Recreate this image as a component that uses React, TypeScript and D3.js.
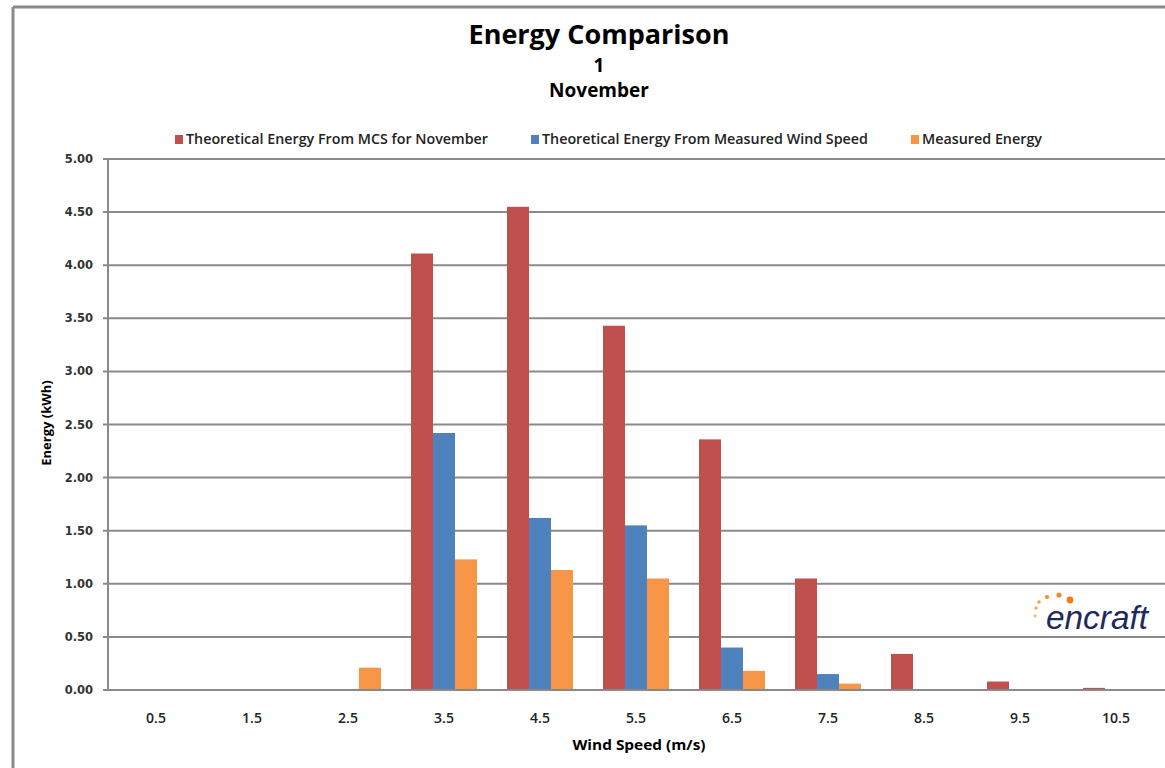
import React from "react";
import * as d3 from "d3";

const categories = ["0.5", "1.5", "2.5", "3.5", "4.5", "5.5", "6.5", "7.5", "8.5", "9.5", "10.5"];
const seriesNames = [
  "Theoretical Energy From MCS for November",
  "Theoretical Energy From Measured Wind Speed",
  "Measured Energy",
];
const seriesColors = ["#c0504d", "#4f81bd", "#f79646"];
const mcsValues = [0, 0, 0, 4.11, 4.55, 3.43, 2.36, 1.05, 0.34, 0.08, 0.02];
const theoreticalValues = [0, 0, 0, 2.42, 1.62, 1.55, 0.4, 0.15, 0, 0, 0];
const measuredValues = [0, 0, 0.21, 1.23, 1.13, 1.05, 0.18, 0.06, 0, 0, 0];
const yTicks = [0, 0.5, 1, 1.5, 2, 2.5, 3, 3.5, 4, 4.5, 5];

const W = 1165;
const H = 768;
const left = 108;
const right = 1164;
const top = 159;
const bottom = 690;
const font = "'Liberation Sans Narrow', 'Arial Narrow', 'Open Sans', sans-serif";

export default function App() {
  const series = [mcsValues, theoreticalValues, measuredValues];
  const x = d3.scaleBand<string>().domain(categories).range([left, right]).paddingInner(0.3125).paddingOuter(0.15625);
  const xs = d3.scaleBand<number>().domain([0, 1, 2]).range([0, x.bandwidth()]).padding(0);
  const y = d3.scaleLinear().domain([0, 5]).range([bottom, top]);

  const legendItems = [
    { x: 175, name: seriesNames[0], color: seriesColors[0], len: 302 },
    { x: 531, name: seriesNames[1], color: seriesColors[1], len: 326 },
    { x: 911, name: seriesNames[2], color: seriesColors[2], len: 120 },
  ];

  return (
    <svg width={W} height={H} style={{ position: "absolute", left: 0, top: 0, background: "#fff" }}>
      <rect x={0} y={0} width={W} height={H} fill="#fff" />
      {/* outer border */}
      <line x1={13} y1={7} x2={W} y2={7} stroke="#8a8a8a" strokeWidth={3} />
      <line x1={13} y1={7} x2={13} y2={H} stroke="#8a8a8a" strokeWidth={3} />

      {/* title */}
      <text x={599} y={44} textAnchor="middle" fontFamily={font} fontWeight="bold" fontSize={27} fill="#000">Energy Comparison</text>
      <text x={599} y={72} textAnchor="middle" fontFamily={font} fontWeight="bold" fontSize={19} fill="#000">1</text>
      <text x={599} y={97} textAnchor="middle" fontFamily={font} fontWeight="bold" fontSize={19} fill="#000">November</text>

      {/* legend */}
      {legendItems.map((d, i) => (
        <g key={i}>
          <rect x={d.x} y={135} width={8} height={9} fill={d.color} />
          <text x={d.x + 11} y={144} fontFamily={font} fontWeight={600} fontSize={14} fill="#222" textLength={d.len} lengthAdjust="spacingAndGlyphs">{d.name}</text>
        </g>
      ))}

      {/* gridlines */}
      {yTicks.map((t) => (
        <g key={t}>
          <line x1={left - 5} x2={right + 1} y1={y(t)} y2={y(t)} stroke="#8a8a8a" strokeWidth={2} />
          <text x={93} y={y(t) + 4} textAnchor="end" fontFamily="'DejaVu Sans', Verdana, sans-serif" fontWeight="bold" fontSize={11.5} fill="#333">
            {t.toFixed(2)}
          </text>
        </g>
      ))}
      <line x1={left} x2={left} y1={top} y2={bottom} stroke="#8a8a8a" strokeWidth={2} />

      {/* bars */}
      {series.map((vals, si) =>
        vals.map((v, ci) =>
          v > 0 ? (
            <rect
              key={`${si}-${ci}`}
              x={(x(categories[ci]) as number) + (xs(si) as number)}
              y={y(v)}
              width={xs.bandwidth()}
              height={bottom - y(v)}
              fill={seriesColors[si]}
            />
          ) : null
        )
      )}
      <line x1={left} x2={right + 1} y1={bottom} y2={bottom} stroke="#8a8a8a" strokeWidth={2} />

      {/* x labels */}
      {categories.map((c) => (
        <text key={c} x={(x(c) as number) + x.bandwidth() / 2} y={723} textAnchor="middle" fontFamily={font} fontWeight={600} fontSize={14} fill="#222">
          {c}
        </text>
      ))}

      {/* axis titles */}
      <text x={639} y={750} textAnchor="middle" fontFamily={font} fontWeight="bold" fontSize={14} fill="#000" textLength={133} lengthAdjust="spacingAndGlyphs">Wind Speed (m/s)</text>
      <text transform="translate(51,423) rotate(-90)" textAnchor="middle" fontFamily={font} fontWeight="bold" fontSize={13} fill="#000">Energy (kWh)</text>

      {/* logo */}
      <g>
        <circle cx={1035} cy={616} r={1.4} fill="#f5b070" />
        <circle cx={1036} cy={608} r={1.6} fill="#f5a04a" />
        <circle cx={1039} cy={602} r={1.8} fill="#f5a04a" />
        <circle cx={1047} cy={597} r={2.1} fill="#f28c28" />
        <circle cx={1059} cy={595} r={2.6} fill="#f28c28" />
        <circle cx={1070} cy={600} r={3.4} fill="#ee7d14" />
        <text x={1046} y={629} fontFamily="'Liberation Sans', Arial, sans-serif" fontStyle="italic" fontSize={33} fill="#1f2a5c" textLength={102} lengthAdjust="spacingAndGlyphs">encraft</text>
      </g>
    </svg>
  );
}
